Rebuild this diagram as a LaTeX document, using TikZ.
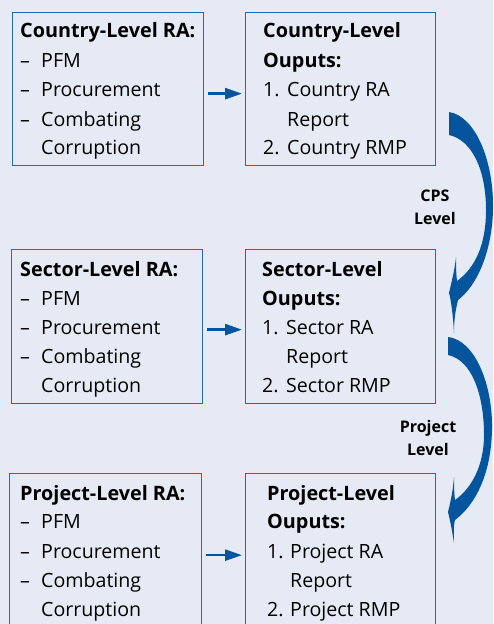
\documentclass[tikz,border=0pt]{standalone}
\usepackage{fontspec}
\setmainfont{Open Sans}
\usetikzlibrary{arrows.meta}
\definecolor{bgc}{RGB}{229,234,244}
\definecolor{boxc}{RGB}{40,105,180}
\definecolor{arrc}{RGB}{4,84,158}
\begin{document}
\begin{tikzpicture}[x=1pt,y=-1pt]
\tikzset{
 box/.style={draw=boxc, line width=1.3pt, fill=bgc, inner sep=0pt, anchor=north west},
 txt/.style={inner sep=0pt, anchor=base west, font=\fontsize{19.6}{22}\selectfont},
 bt/.style={inner sep=0pt, anchor=base west, font=\fontsize{19.8}{22}\selectfont\bfseries},
 flow/.style={draw=arrc, line width=2.6pt, -{Triangle[length=17pt,width=11pt]}, shorten <=4pt, shorten >=3pt},
 lvl/.style={inner sep=0pt, font=\fontsize{16}{23}\selectfont\bfseries, align=center},
 bentarrow/.style={fill=arrc, draw=none}
}
\fill[bgc] (0,0) rectangle (493,624);
\useasboundingbox (0,0) rectangle (493,624);
% ---------- boxes
\node[box, minimum width=191pt, minimum height=153pt] (b1) at (12,12) {};
\node[box, minimum width=190pt, minimum height=153pt] (b2) at (245,12) {};
\node[box, minimum width=191pt, minimum height=154pt] (b3) at (11,249) {};
\node[box, minimum width=190pt, minimum height=154pt] (b4) at (245,249) {};
\node[box, minimum width=192pt, minimum height=160pt] (b5) at (9,473) {};
\node[box, minimum width=190pt, minimum height=160pt] (b6) at (245,473) {};
% ---------- row 1 text
\node[bt] (t11) at (20,37) {Country-Level RA:};
\node[txt] (t12) at (20,67) {–};  \node[txt] (t13) at (41,67) {PFM};
\node[txt] (t14) at (20,96) {–};  \node[txt] (t15) at (41,96) {Procurement};
\node[txt] (t16) at (20,126) {–}; \node[txt] (t17) at (41,126) {Combating};
\node[txt] (t18) at (41,154) {Corruption};
\node[bt] (t21) at (263,37) {Country-Level};
\node[bt] (t22) at (263,67) {Ouputs:};
\node[txt] (t23) at (263,96) {1.}; \node[txt] (t24) at (287,96) {Country RA};
\node[txt] (t25) at (287,126) {Report};
\node[txt] (t26) at (263,154) {2.}; \node[txt] (t27) at (287,154) {Country RMP};
% ---------- row 2 text
\node[bt] (t31) at (20,276) {Sector-Level RA:};
\node[txt] (t32) at (20,305) {–};  \node[txt] (t33) at (41,305) {PFM};
\node[txt] (t34) at (20,334) {–};  \node[txt] (t35) at (41,334) {Procurement};
\node[txt] (t36) at (20,363) {–};  \node[txt] (t37) at (41,363) {Combating};
\node[txt] (t38) at (41,392) {Corruption};
\node[bt] (t41) at (262,276) {Sector-Level};
\node[bt] (t42) at (262,305) {Ouputs:};
\node[txt] (t43) at (262,334) {1.}; \node[txt] (t44) at (286,334) {Sector RA};
\node[txt] (t45) at (286,363) {Report};
\node[txt] (t46) at (262,392) {2.}; \node[txt] (t47) at (286,392) {Sector RMP};
% ---------- row 3 text
\node[bt] (t51) at (20,500) {Project-Level RA:};
\node[txt] (t52) at (20,528) {–};  \node[txt] (t53) at (41,528) {PFM};
\node[txt] (t54) at (20,558) {–};  \node[txt] (t55) at (41,558) {Procurement};
\node[txt] (t56) at (20,587) {–};  \node[txt] (t57) at (41,587) {Combating};
\node[txt] (t58) at (41,616) {Corruption};
\node[bt] (t61) at (267,500) {Project-Level};
\node[bt] (t62) at (267,528) {Ouputs:};
\node[txt] (t63) at (267,558) {1.}; \node[txt] (t64) at (290,558) {Project RA};
\node[txt] (t65) at (290,587) {Report};
\node[txt] (t66) at (267,616) {2.}; \node[txt] (t67) at (290,616) {Project RMP};
% ---------- small arrows
\draw[flow] ([yshift=-4.5pt]b1.east) -- ([yshift=-4.5pt]b2.west);
\draw[flow] ([yshift=-3pt]b3.east) -- ([yshift=-3pt]b4.west);
\draw[flow] ([yshift=-1.5pt]b5.east) -- ([yshift=-1.5pt]b6.west);
% ---------- level labels
\node[lvl] (cps) at (435,207) {CPS\\Level};
\node[lvl] (prj) at (428,438) {Project\\Level};
% ---------- bent arrows
\fill[bentarrow] (449,112) .. controls (475,116) and (494,160) .. (493,210)
  .. controls (492,250) and (478,285) .. (458,300)
  .. controls (455,312) and (454,322) .. (454,333)
  .. controls (453,315) and (451,300) .. (449,293)
  .. controls (452,280) and (455,268) .. (456,257)
  .. controls (456,265) and (456,272) .. (457,281)
  .. controls (475,268) and (486,245) .. (486,210)
  .. controls (486,170) and (472,140) .. (449,135) -- cycle;
\fill[bentarrow] (448,337) .. controls (475,340) and (493,385) .. (492,430)
  .. controls (491,475) and (475,505) .. (455,520)
  .. controls (453,528) and (454,535) .. (454,543)
  .. controls (452,530) and (450,520) .. (448,512)
  .. controls (451,500) and (453,490) .. (454,477)
  .. controls (454,485) and (454,492) .. (455,500)
  .. controls (472,488) and (484,465) .. (484,435)
  .. controls (484,395) and (472,360) .. (448,355) -- cycle;
\end{tikzpicture}
\end{document}
